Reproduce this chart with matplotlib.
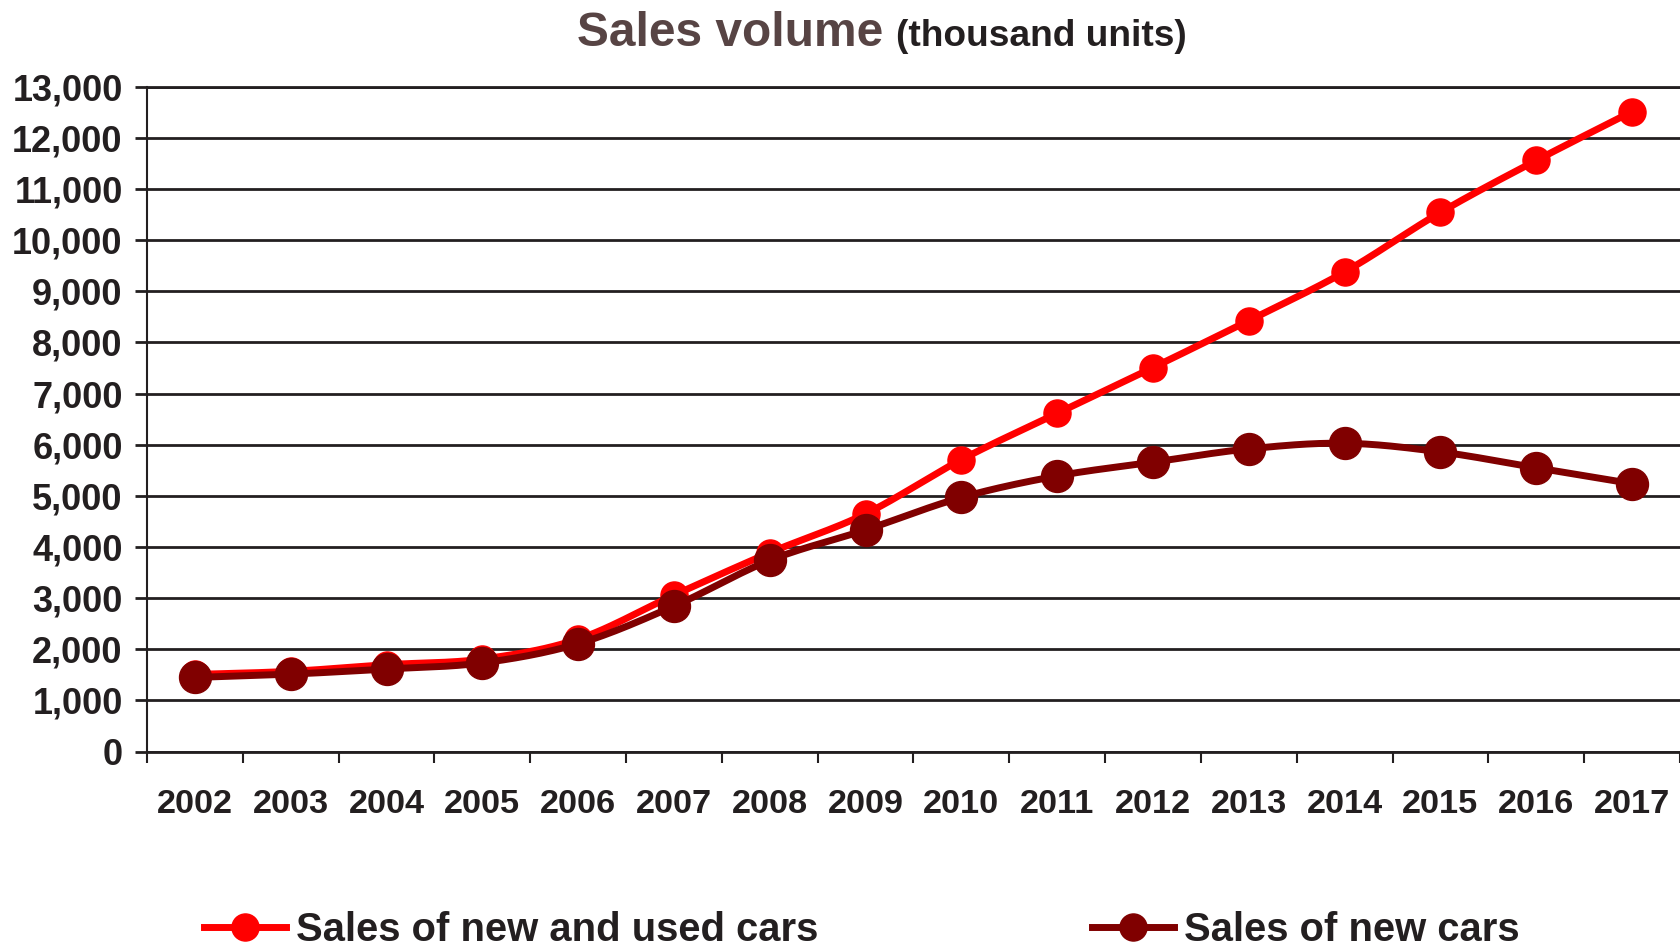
import matplotlib
matplotlib.use("Agg")
import matplotlib.pyplot as plt
from matplotlib.lines import Line2D
import numpy as np

plt.rcParams['font.family'] = ['Liberation Sans', 'DejaVu Sans']

# Sales volume, thousand units
years = [str(y) for y in range(2002, 2018)]
new_and_used = [1510, 1570, 1700, 1810, 2200, 3060, 3890, 4650, 5710, 6615, 7510,
                8430, 9380, 10545, 11560, 12515]
new_only = [1450, 1515, 1615, 1735, 2110, 2845, 3740, 4335, 4970, 5390, 5660,
            5920, 6030, 5860, 5550, 5240]

RED = '#ff0000'
MAROON = '#800000'
INK = '#231f20'


def smooth(xs, ys, n=24):
    """Bezier smoothing through the points (Catmull-Rom style control points)."""
    xs = np.asarray(xs, float)
    ys = np.asarray(ys, float)
    px = np.concatenate([[xs[0]], xs, [xs[-1]]])
    py = np.concatenate([[ys[0]], ys, [ys[-1]]])
    outx, outy = [], []
    t = np.linspace(0, 1, n)
    for i in range(1, len(px) - 2):
        x0, x1, x2, x3 = px[i - 1], px[i], px[i + 1], px[i + 2]
        y0, y1, y2, y3 = py[i - 1], py[i], py[i + 1], py[i + 2]
        c1x, c1y = x1 + (x2 - x0) / 6, y1 + (y2 - y0) / 6
        c2x, c2y = x2 - (x3 - x1) / 6, y2 - (y3 - y1) / 6
        bx = (1-t)**3*x1 + 3*(1-t)**2*t*c1x + 3*(1-t)*t**2*c2x + t**3*x2
        by = (1-t)**3*y1 + 3*(1-t)**2*t*c1y + 3*(1-t)*t**2*c2y + t**3*y2
        outx.extend(bx)
        outy.extend(by)
    return np.array(outx), np.array(outy)


W, H = 1681, 948
fig = plt.figure(figsize=(W / 100, H / 100), dpi=100)
left, right, top, bottom = 147, 1680, 86.8, 751.6
ax = fig.add_axes([left / W, 1 - bottom / H, (right - left) / W, (bottom - top) / H])

x = np.arange(len(years))

sx, sy = smooth(x, new_and_used)
ax.plot(sx, sy, color=RED, lw=5.0, solid_capstyle='round', zorder=3)
ax.plot(x, new_and_used, 'o', color=RED, ms=19.5, zorder=4)

sx, sy = smooth(x, new_only)
ax.plot(sx, sy, color=MAROON, lw=5.0, solid_capstyle='round', zorder=5)
ax.plot(x, new_only, 'o', color=MAROON, ms=23, zorder=6)

ax.set_xlim(-0.5, len(years) - 0.5)
ax.set_ylim(0, 13000)

# horizontal grid
ax.set_yticks(range(0, 13001, 1000))
ax.set_yticklabels([f'{v:,}' for v in range(0, 13001, 1000)])
ax.yaxis.grid(True, color=INK, lw=2.0)
ax.set_axisbelow(True)
ax.spines['right'].set_visible(False)
ax.spines['top'].set_color(INK)
ax.spines['top'].set_linewidth(2.0)
ax.spines['bottom'].set_color(INK)
ax.spines['bottom'].set_linewidth(2.0)
ax.spines['left'].set_color(INK)
ax.spines['left'].set_linewidth(1.5)

ax.tick_params(axis='y', direction='out', length=8.5, width=2.0, color=INK,
               pad=9, labelsize=26, labelcolor=INK)
for lab in ax.get_yticklabels():
    lab.set_fontweight('bold')

# year labels centred, ticks on category boundaries
ax.set_xticks(x)
ax.set_xticklabels(years)
ax.set_xticks(np.arange(-0.5, len(years), 1), minor=True)
ax.tick_params(axis='x', which='major', length=0, pad=27, labelsize=24.7,
               labelcolor=INK)
ax.tick_params(axis='x', which='minor', direction='out', length=8, width=1.5,
               color=INK)
for lab in ax.get_xticklabels():
    lab.set_fontweight('bold')

# title
fig.text(577 / W, 1 - 46 / H, 'Sales volume', fontsize=34.5, fontweight='bold',
         color='#574444', ha='left', va='baseline')
fig.text(896 / W, 1 - 46 / H, '(thousand units)', fontsize=26.7, fontweight='bold',
         color=INK, ha='left', va='baseline')

# legend
handles = [
    Line2D([], [], color=RED, lw=5.0, marker='o', ms=19.5),
    Line2D([], [], color=MAROON, lw=5.0, marker='o', ms=19.5),
]
labels = ['Sales of new and used cars', 'Sales of new cars']
leg = fig.legend(handles, labels, loc='center left', bbox_to_anchor=(204 / W, 1 - 930 / H),
                 ncol=2, frameon=False, handlelength=2.05, handletextpad=0.25,
                 columnspacing=6.85, borderpad=0, borderaxespad=0,
                 prop={'size': 28.8, 'weight': 'bold'})
for t in leg.get_texts():
    t.set_color(INK)

fig.savefig('out.png', dpi=100, facecolor='white')
